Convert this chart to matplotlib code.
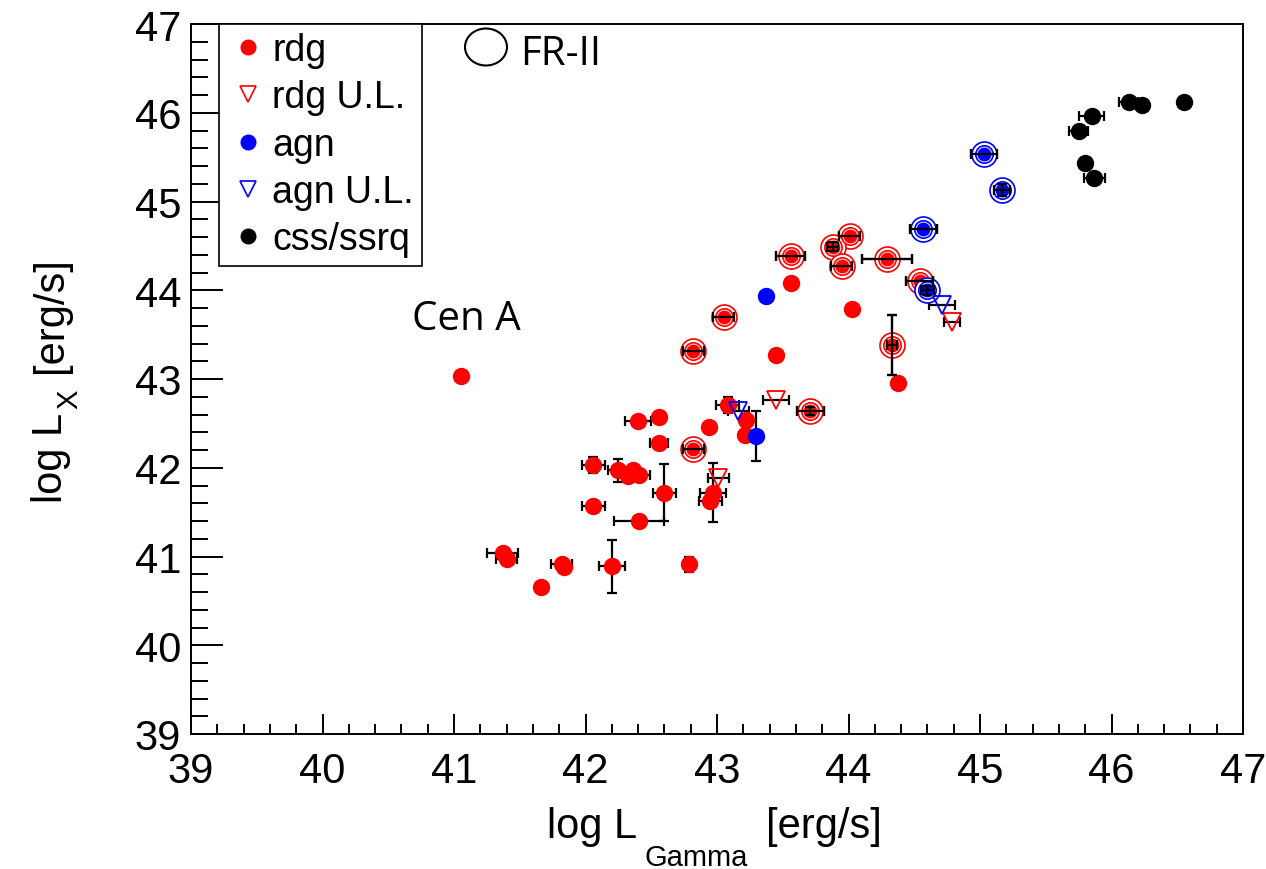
import numpy as np
import matplotlib.pyplot as plt
from matplotlib.lines import Line2D
from matplotlib.patches import Ellipse
from matplotlib.ticker import MultipleLocator

plt.rcParams['font.family'] = ['Liberation Sans', 'DejaVu Sans']

# --- radio galaxies (detections) ---
rdg_x = [41.05, 43.08, 43.22, 43.21, 42.94, 42.56, 42.40, 42.56, 42.82, 42.06,
         42.25, 42.36, 42.32, 42.41, 42.60, 42.06, 42.41, 42.97, 42.95, 41.37,
         41.40, 41.82, 41.84, 41.66, 42.20, 42.79, 44.01, 43.88, 43.95, 43.56,
         44.29, 43.56, 43.05, 44.03, 44.54, 44.33, 44.38, 42.82, 43.45, 43.71]
rdg_y = [43.03, 42.71, 42.54, 42.37, 42.46, 42.57, 42.53, 42.28, 42.21, 42.03,
         41.97, 41.97, 41.91, 41.92, 41.72, 41.57, 41.40, 41.72, 41.63, 41.04,
         40.97, 40.91, 40.88, 40.66, 40.89, 40.91, 44.61, 44.49, 44.27, 44.39,
         44.35, 44.08, 43.70, 43.79, 44.10, 43.38, 42.96, 43.31, 43.27, 42.64]
rdg_xerr = [0, 0.09, 0, 0, 0, 0, 0.10, 0.07, 0.08, 0.09,
            0.08, 0, 0, 0.08, 0.085, 0.09, 0.19, 0.10, 0.09, 0.12,
            0.08, 0.08, 0, 0, 0.10, 0, 0.08, 0.04, 0.08, 0.11,
            0.19, 0, 0.08, 0, 0.10, 0.04, 0, 0.08, 0.04, 0.10]
rdg_yerr = [0, 0.09, 0, 0, 0, 0, 0, 0, 0, 0.09,
            0.13, 0, 0, 0, 0.32, 0, 0, 0.33, 0, 0,
            0, 0, 0, 0, 0.30, 0.09, 0, 0.05, 0, 0,
            0, 0, 0, 0, 0, 0.34, 0, 0, 0, 0.05]
rdg_fr2 = [0, 0, 0, 0, 0, 0, 0, 0, 1, 0,
           0, 0, 0, 0, 0, 0, 0, 0, 0, 0,
           0, 0, 0, 0, 0, 0, 1, 1, 1, 1,
           1, 0, 1, 0, 1, 1, 0, 1, 0, 1]

# --- radio galaxies (upper limits) ---
rdg_ul_x = [43.45, 43.01, 44.79]
rdg_ul_y = [42.76, 41.89, 43.64]
rdg_ul_xerr = [0.10, 0.08, 0.06]
rdg_ul_yerr = [0, 0, 0]

# --- agn (detections) ---
agn_x = [43.30, 43.37, 44.57, 44.60, 45.03, 45.17]
agn_y = [42.36, 43.94, 44.69, 44.00, 45.54, 45.13]
agn_xerr = [0, 0, 0.10, 0.05, 0.10, 0.06]
agn_yerr = [0.28, 0, 0, 0.05, 0, 0.07]
agn_fr2 = [0, 0, 1, 1, 1, 1]

# --- agn (upper limits) ---
agn_ul_x = [43.16, 44.71]
agn_ul_y = [42.64, 43.83]
agn_ul_xerr = [0.08, 0.10]
agn_ul_yerr = [0, 0]

# --- CSS / SSRQ ---
css_x = [46.13, 46.23, 46.55, 45.85, 45.75, 45.80, 45.87]
css_y = [46.12, 46.09, 46.12, 45.96, 45.79, 45.43, 45.26]
css_xerr = [0.07, 0, 0, 0.095, 0.07, 0, 0.08]
css_yerr = [0, 0, 0, 0, 0, 0, 0]
css_fr2 = [0, 0, 0, 0, 0, 0, 0]

RED = '#ff0000'
BLUE = '#0000ff'
BLACK = '#000000'

W, H = 1266, 870
fig = plt.figure(figsize=(W / 100, H / 100), dpi=100)
ax = fig.add_axes([191 / W, 1 - 735 / H, (1243 - 191) / W, (735 - 25) / H])

ebar_kw = dict(fmt='none', ecolor='k', elinewidth=1.6, capsize=3.8, capthick=1.6)


def error_bars(x, y, xerr, yerr, z):
    mx = xerr > 0
    if mx.any():
        ax.errorbar(x[mx], y[mx], xerr=xerr[mx], zorder=z, **ebar_kw)
    my = yerr > 0
    if my.any():
        ax.errorbar(x[my], y[my], yerr=yerr[my], zorder=z, **ebar_kw)


def draw_set(x, y, xerr, yerr, color, upper=False, fr2=None):
    x, y = np.asarray(x), np.asarray(y)
    xerr, yerr = np.asarray(xerr), np.asarray(yerr)
    error_bars(x, y, xerr, yerr, 2)
    if upper:
        ax.plot(x, y, 'v', ls='none', ms=13, mfc='none', mec=color, mew=1.3, zorder=3)
        return
    ring = np.zeros(len(x), bool) if fr2 is None else np.asarray(fr2) == 1
    plain = ~ring
    ax.plot(x[plain], y[plain], 'o', ls='none', ms=11.5, color=color, zorder=3)
    if ring.any():
        # FR-II sources: filled dot inside a double ring, error bars on top
        ax.plot(x[ring], y[ring], 'o', ls='none', ms=18, mfc='white', mec=color, mew=1.2, zorder=3)
        ax.plot(x[ring], y[ring], 'o', ls='none', ms=12.5, mfc='white', mec=color, mew=1.2, zorder=3)
        ax.plot(x[ring], y[ring], 'o', ls='none', ms=9, color=color, zorder=3)
        error_bars(x[ring], y[ring], xerr[ring], yerr[ring], 4)


draw_set(rdg_x, rdg_y, rdg_xerr, rdg_yerr, RED, fr2=rdg_fr2)
draw_set(agn_x, agn_y, agn_xerr, agn_yerr, BLUE, fr2=agn_fr2)
draw_set(css_x, css_y, css_xerr, css_yerr, BLACK, fr2=css_fr2)
draw_set(rdg_ul_x, rdg_ul_y, rdg_ul_xerr, rdg_ul_yerr, RED, upper=True)
draw_set(agn_ul_x, agn_ul_y, agn_ul_xerr, agn_ul_yerr, BLUE, upper=True)

ax.set_xlim(39, 47)
ax.set_ylim(39, 47)
ax.xaxis.set_major_locator(MultipleLocator(1))
ax.xaxis.set_minor_locator(MultipleLocator(0.2))
ax.yaxis.set_major_locator(MultipleLocator(1))
ax.yaxis.set_minor_locator(MultipleLocator(0.2))
ax.tick_params(axis='both', which='both', direction='in', width=1.4, labelsize=30,
               top=False, right=False)
ax.tick_params(axis='x', which='major', length=14.5, pad=12)
ax.tick_params(axis='x', which='minor', length=7.2)
ax.tick_params(axis='y', which='major', length=23, pad=7)
ax.tick_params(axis='y', which='minor', length=12)
for sp in ax.spines.values():
    sp.set_linewidth(1.4)

# axis titles, ROOT style with a dropped subscript
fig.text(547 / W, 1 - 838 / H, 'log L', fontsize=30, ha='left', va='baseline')
fig.text(644 / W, 1 - 866 / H, 'Gamma', fontsize=21, ha='left', va='baseline')
fig.text(766 / W, 1 - 838 / H, '[erg/s]', fontsize=30, ha='left', va='baseline')

fig.text(62 / W, 1 - 503 / H, 'log L', fontsize=30, rotation=90,
         rotation_mode='anchor', ha='left', va='baseline')
fig.text(77 / W, 1 - 409 / H, 'X', fontsize=21, rotation=90,
         rotation_mode='anchor', ha='left', va='baseline')
fig.text(62 / W, 1 - 373 / H, '[erg/s]', fontsize=30, rotation=90,
         rotation_mode='anchor', ha='left', va='baseline')

# legend
handles = [
    Line2D([], [], ls='none', marker='o', ms=10.5, color=RED),
    Line2D([], [], ls='none', marker='v', ms=11, mfc='none', mec=RED, mew=1.2),
    Line2D([], [], ls='none', marker='o', ms=10.5, color=BLUE),
    Line2D([], [], ls='none', marker='v', ms=11, mfc='none', mec=BLUE, mew=1.2),
    Line2D([], [], ls='none', marker='o', ms=10.5, color=BLACK),
]
labels = ['rdg', 'rdg U.L.', 'agn', 'agn U.L.', 'css/ssrq']
leg = ax.legend(handles, labels, loc='upper left', bbox_to_anchor=(219 / W, 1 - 25 / H),
                bbox_transform=fig.transFigure, borderaxespad=0, fontsize=27,
                frameon=True, fancybox=False, edgecolor='black', framealpha=1,
                borderpad=0.22, labelspacing=0.30, handlelength=1.1, handletextpad=0.1)
leg.get_frame().set_linewidth(1.2)
leg.set_zorder(10)

# FR-II key and Cen A note
fig.patches.append(Ellipse((486 / W, 1 - 48 / H), 42 / W, 37 / H, transform=fig.transFigure,
                           fill=False, edgecolor='black', linewidth=1.5))
fig.text(520 / W, 1 - 65 / H, 'FR-II', fontsize=29, family=['Open Sans', 'DejaVu Sans'],
         ha='left', va='baseline')
fig.text(412 / W, 1 - 330 / H, 'Cen A', fontsize=29, family=['Open Sans', 'DejaVu Sans'],
         ha='left', va='baseline')

fig.savefig('out.png', dpi=100)
